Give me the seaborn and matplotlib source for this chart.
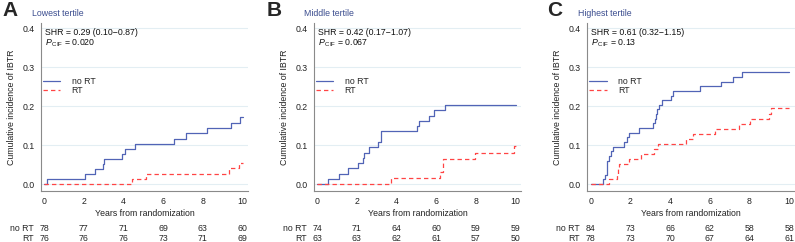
import numpy as np
import pandas as pd
import matplotlib
matplotlib.use("Agg")
import matplotlib.pyplot as plt
import seaborn as sns

# step points (time in years, cumulative incidence)
a_nort_t = [0, 0.13, 2.05, 2.58, 2.98, 3.02, 3.93, 4.06, 4.56, 6.53, 7.15, 8.2, 9.42, 9.85, 10]
a_nort_y = [0, 0.013, 0.026, 0.038, 0.051, 0.064, 0.078, 0.09, 0.104, 0.116, 0.13, 0.144, 0.158, 0.172, 0.172]
a_rt_t = [0, 4.43, 5.12, 9.3, 9.82, 10]
a_rt_y = [0, 0.013, 0.026, 0.04, 0.055, 0.055]

b_nort_t = [0, 0.55, 1.08, 1.54, 2.07, 2.3, 2.37, 2.62, 3.06, 3.2, 3.23, 5.05, 5.13, 5.65, 5.9, 6.42, 10]
b_nort_y = [0, 0.013, 0.027, 0.041, 0.054, 0.068, 0.081, 0.095, 0.108, 0.122, 0.136, 0.149, 0.162, 0.176, 0.19, 0.203, 0.203]
b_rt_t = [0, 3.71, 6.18, 6.34, 7.95, 9.9, 10]
b_rt_y = [0, 0.016, 0.032, 0.065, 0.081, 0.098, 0.098]

c_nort_t = [0, 0.64, 0.74, 0.81, 0.94, 1.04, 1.14, 1.7, 1.81, 1.92, 2.45, 3.13, 3.23, 3.29, 3.36,
            3.46, 3.6, 4.05, 4.13, 5.51, 6.57, 7.16, 7.61, 10]
c_nort_y = [0, 0.012, 0.024, 0.06, 0.071, 0.084, 0.096, 0.108, 0.12, 0.132, 0.144, 0.156, 0.168, 0.18, 0.192,
            0.203, 0.215, 0.227, 0.24, 0.251, 0.263, 0.276, 0.288, 0.288]
c_rt_t = [0, 0.94, 1.31, 1.38, 1.45, 1.95, 2.54, 3.21, 3.38, 4.81, 5.14, 6.27, 7.45, 8.03, 9.0, 9.1, 10]
c_rt_y = [0, 0.013, 0.025, 0.041, 0.052, 0.065, 0.078, 0.09, 0.103, 0.115, 0.128, 0.142, 0.154, 0.168, 0.181, 0.195, 0.195]

risk_times = [0, 2, 4, 6, 8, 10]
a_risk_nort = [78, 77, 71, 69, 63, 60]
a_risk_rt = [76, 76, 76, 73, 71, 69]
b_risk_nort = [74, 71, 64, 60, 59, 59]
b_risk_rt = [63, 63, 62, 61, 57, 50]
c_risk_nort = [84, 73, 66, 62, 58, 58]
c_risk_rt = [78, 73, 70, 67, 64, 61]

letters = ['A', 'B', 'C']
titles = ['Lowest tertile', 'Middle tertile', 'Highest tertile']
shr_texts = ['SHR = 0.29 (0.10\u22120.87)', 'SHR = 0.42 (0.17\u22121.07)', 'SHR = 0.61 (0.32\u22121.15)']
p_values = ['0.020', '0.067', '0.13']

sns.set_theme(style="white")
plt.rcParams['font.family'] = ['Liberation Sans', 'DejaVu Sans']
plt.rcParams['mathtext.fontset'] = 'custom'
plt.rcParams['mathtext.rm'] = 'Liberation Sans'
plt.rcParams['mathtext.it'] = 'Liberation Sans:italic'

blue = '#5164b6'
red = '#ff4444'
grey = '#8a8a8a'
fs = 6.3

panels = [
    (a_nort_t, a_nort_y, a_rt_t, a_rt_y, a_risk_nort, a_risk_rt),
    (b_nort_t, b_nort_y, b_rt_t, b_rt_y, b_risk_nort, b_risk_rt),
    (c_nort_t, c_nort_y, c_rt_t, c_rt_y, c_risk_nort, c_risk_rt),
]
lefts = [40.7 / 795, 313.7 / 795, 587.3 / 795]
letter_x = [2, 267, 547]
title_x = [32, 304, 578]

fig = plt.figure(figsize=(7.95, 2.42), dpi=100)

for i, (nt, ny, rt, ry, rk_n, rk_r) in enumerate(panels):
    ax = fig.add_axes([lefts[i], 0.212, 0.261, 0.692])
    df = pd.concat([
        pd.DataFrame({'time': nt, 'cif': ny, 'group': 'no RT'}),
        pd.DataFrame({'time': rt, 'cif': ry, 'group': 'RT'}),
    ])
    sns.lineplot(data=df, x='time', y='cif', hue='group', style='group',
                 palette={'no RT': blue, 'RT': red},
                 dashes={'no RT': '', 'RT': (3.5, 2.5)},
                 estimator=None, drawstyle='steps-post', linewidth=0.9, ax=ax)

    ax.set_xlim(-0.17, 10.28)
    ax.set_ylim(-0.017, 0.413)
    ax.set_xticks(risk_times)
    ax.set_yticks([0, 0.1, 0.2, 0.3, 0.4])
    ax.set_yticklabels(['0.0', '0.1', '0.2', '0.3', '0.4'])
    ax.yaxis.grid(True, color='#e3eef3', linewidth=0.8)
    ax.set_axisbelow(True)
    for s in ['top', 'right']:
        ax.spines[s].set_visible(False)
    for s in ['left', 'bottom']:
        ax.spines[s].set_color(grey)
        ax.spines[s].set_linewidth(0.8)
    ax.tick_params(axis='both', direction='out', length=3, width=0.6, color=grey,
                   labelsize=fs, pad=1.5, labelcolor='#222222')
    ax.set_xlabel('Years from randomization', fontsize=fs, labelpad=2, color='#222222')
    ax.set_ylabel('Cumulative incidence of IBTR', fontsize=fs, color='#222222')
    ax.yaxis.set_label_coords(-0.12, 0.5)

    ax.text(0.02, 0.942, shr_texts[i], transform=ax.transAxes, fontsize=fs,
            va='center', ha='left', color='#111111')
    ax.text(0.02, 0.882, r'$P_{\,\mathrm{CIF}}$ = ' + p_values[i], transform=ax.transAxes,
            fontsize=fs, va='center', ha='left', color='#111111')

    handles, labels = ax.get_legend_handles_labels()
    ax.legend(handles, labels, loc='upper left', bbox_to_anchor=(0.01, 0.68), frameon=False,
              fontsize=fs, handlelength=2.0, handletextpad=1.3, labelspacing=0.0,
              borderaxespad=0, borderpad=0)

    # numbers at risk under each tick
    tr = matplotlib.transforms.blended_transform_factory(ax.transData, ax.transAxes)
    for t, n, r in zip(risk_times, rk_n, rk_r):
        ax.text(t, -0.226, str(n), transform=tr, fontsize=fs, ha='center', va='center')
        ax.text(t, -0.284, str(r), transform=tr, fontsize=fs, ha='center', va='center')
    ax.text(-0.035, -0.226, 'no RT', transform=ax.transAxes, fontsize=fs, ha='right', va='center')
    ax.text(-0.035, -0.284, 'RT', transform=ax.transAxes, fontsize=fs, ha='right', va='center')

    fig.text(letter_x[i] / 795, 1 - 10 / 242, letters[i], fontsize=15, fontweight='bold',
             ha='left', va='center')
    fig.text(title_x[i] / 795, 1 - 13 / 242, titles[i], fontsize=fs, color='#3b4d8f',
             ha='left', va='center')

fig.savefig('out.png', dpi=100, facecolor='white')
